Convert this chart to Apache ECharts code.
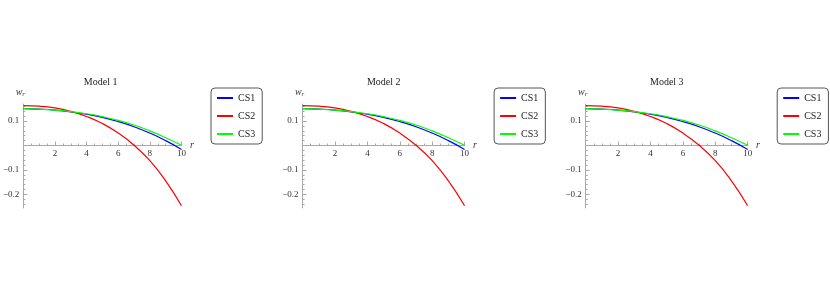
<!DOCTYPE html>
<html>
<head>
<meta charset="utf-8">
<script src="https://cdn.jsdelivr.net/npm/echarts@6/dist/echarts.min.js"></script>
<style>
html,body{margin:0;padding:0;background:#fff;}
#c{width:830px;height:286px;}
</style>
</head>
<body>
<div id="c"></div>
<script>
// ---- data (same curves in all three panels) ----
const titles = ['Model 1', 'Model 2', 'Model 3'];
const seriesNames = ['CS1', 'CS2', 'CS3'];
const r = [0, 1, 2, 3, 4, 5, 6, 7, 8, 9, 10];
const cs1 = [0.151, 0.149, 0.145, 0.138, 0.128, 0.115, 0.098, 0.077, 0.051, 0.020, -0.016];
const cs2 = [0.163, 0.161, 0.154, 0.140, 0.119, 0.090, 0.051, 0.001, -0.062, -0.145, -0.247];
const cs3 = [0.151, 0.149, 0.145, 0.139, 0.130, 0.118, 0.103, 0.084, 0.060, 0.032, 0.001];
const xTickLabels = [2, 4, 6, 8, 10];
const yTickLabels = [-0.2, -0.1, 0.1];

const colors = ['#0000ff', '#ff0000', '#00ff00'];
const values = [cs1, cs2, cs3];
const FONT = '"Liberation Serif", "DejaVu Serif", serif';
const Y_MIN = -0.256, Y_MAX = 0.17;
const xMinor = [];
for (let v = 0.5; v < 10; v += 0.5) { if (Math.abs(v / 2 - Math.round(v / 2)) > 1e-6) xMinor.push(+v.toFixed(2)); }
const yMinor = [];
for (let i = -12; i <= 8; i++) { if (i % 5 !== 0) yMinor.push(+(i * 0.02).toFixed(2)); }

const PX = 283.1, GH = 104;
// move the x axis up to the y = 0 line (grid bottom sits at Y_MIN)
const zeroOffset = -GH * (0 - Y_MIN) / (Y_MAX - Y_MIN);
const grids = [], xAxes = [], yAxes = [], series = [], legends = [], graphics = [];
const axisLineStyle = { color: '#a8a8a8', width: 1 };
for (let k = 0; k < 3; k++) {
  const dx = k * PX;
  grids.push({ left: 19.5 + dx, top: 104, width: 162, height: GH });
  xAxes.push({
    type: 'value', gridIndex: k, min: 0, max: 10, position: 'bottom', offset: zeroOffset,
    axisLine: { show: true, onZero: false, lineStyle: axisLineStyle },
    axisTick: { show: true, inside: true, length: 4, lineStyle: axisLineStyle, customValues: xTickLabels },
    axisLabel: { show: true, customValues: xTickLabels, margin: 4, fontSize: 9, fontFamily: FONT, color: '#333' },
    splitLine: { show: false },
    name: 'r', nameLocation: 'end', nameGap: 7,
    nameTextStyle: { fontStyle: 'italic', fontFamily: FONT, fontSize: 10, color: '#333', verticalAlign: 'middle' }
  });
  xAxes.push({
    type: 'value', gridIndex: k, min: 0, max: 10, position: 'bottom', offset: zeroOffset,
    axisLine: { show: false, onZero: false },
    axisTick: { show: true, inside: true, length: 2, lineStyle: axisLineStyle, customValues: xMinor },
    axisLabel: { show: false }, splitLine: { show: false }
  });
  yAxes.push({
    type: 'value', gridIndex: k, min: Y_MIN, max: Y_MAX, position: 'left',
    axisLine: { show: true, onZero: false, lineStyle: axisLineStyle },
    axisTick: { show: true, inside: true, length: 4, lineStyle: axisLineStyle, customValues: yTickLabels },
    axisLabel: {
      show: true, customValues: yTickLabels, margin: 4, fontSize: 9, fontFamily: FONT, color: '#333',
      formatter: v => (v < 0 ? '\u2212' + Math.abs(v) : String(v))
    },
    splitLine: { show: false },
    name: '{w|w}{s|r}', nameLocation: 'end', nameGap: 6,
    nameTextStyle: {
      align: 'center', padding: [0, 6, 0, 0],
      rich: {
        w: { fontStyle: 'italic', fontFamily: FONT, fontSize: 10, color: '#333' },
        s: { fontStyle: 'italic', fontFamily: FONT, fontSize: 7, color: '#333', padding: [5, 0, 0, 0] }
      }
    }
  });
  yAxes.push({
    type: 'value', gridIndex: k, min: Y_MIN, max: Y_MAX, position: 'left',
    axisLine: { show: false, onZero: false },
    axisTick: { show: true, inside: true, length: 2, lineStyle: axisLineStyle, customValues: yMinor },
    axisLabel: { show: false }, splitLine: { show: false }
  });
  for (let s = 0; s < 3; s++) {
    series.push({
      type: 'line', name: seriesNames[s], xAxisIndex: 2 * k, yAxisIndex: 2 * k,
      data: r.map((x, i) => [x, values[s][i]]),
      smooth: 0.5, symbol: 'none', showSymbol: false,
      lineStyle: { color: colors[s], width: 1.2 }, itemStyle: { color: colors[s] },
      animation: false, silent: true
    });
  }
  legends.push({
    left: 211 + dx, top: 88, orient: 'vertical',
    data: seriesNames, icon: 'rect', itemWidth: 16, itemHeight: 2, itemGap: 8,
    padding: [5, 7, 5, 6], borderColor: '#555', borderWidth: 1, borderRadius: 4,
    textStyle: { fontSize: 10, fontFamily: FONT, color: '#222' },
    selectedMode: false
  });
  graphics.push({
    type: 'text', x: 100.6 + dx, y: 82,
    style: { text: titles[k], textAlign: 'center', textVerticalAlign: 'middle', fontSize: 10, fontFamily: FONT, fill: '#222' }
  });
}

const chart = echarts.init(document.getElementById('c'), null, { renderer: 'canvas' });
chart.setOption({
  backgroundColor: '#fff',
  animation: false,
  grid: grids, xAxis: xAxes, yAxis: yAxes, series: series, legend: legends, graphic: graphics
});
</script>
</body>
</html>
